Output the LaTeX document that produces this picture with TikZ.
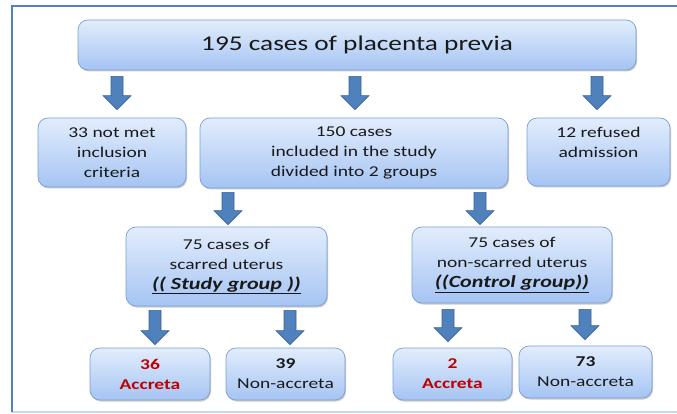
\documentclass[tikz,border=0pt]{standalone}
\usepackage{fontspec}
\setmainfont{Carlito}[FakeStretch=1.3]
\usetikzlibrary{calc,shadows}
\definecolor{boxtop}{HTML}{E2EDFC}
\definecolor{boxbot}{HTML}{A5C4F3}
\definecolor{boxline}{HTML}{7A9FD4}
\definecolor{arrowblue}{HTML}{4F81BD}
\definecolor{arrowdark}{HTML}{3A6396}
\definecolor{framelight}{HTML}{C9D7EA}
\definecolor{accred}{HTML}{C00000}
\tikzset{
  box/.style={draw=boxline, line width=0.7pt, rounded corners=10pt,
    top color=boxtop, bottom color=boxbot, align=center, inner sep=2pt,
    font=\fontsize{15}{20}\selectfont, text=black!90,
    drop shadow={shadow xshift=1pt, shadow yshift=-1.5pt, opacity=0.35, fill=black!60}},
  arrowstyle/.style={draw=arrowdark, fill=arrowblue, line width=0.6pt, line join=miter}
}
% block arrow between two points on one vertical
\newcommand{\blockarrow}[2]{%
  \filldraw[arrowstyle] let \p1=(#1), \p2=(#2) in
    (\x1-6pt,\y1) -- (\x1+6pt,\y1) -- (\x1+6pt,\y2+14pt) -- (\x1+14pt,\y2+14pt)
    -- (\x1,\y2) -- (\x1-14pt,\y2+14pt) -- (\x1-6pt,\y2+14pt) -- cycle;}
\newcommand{\grouptag}[1]{{\fontsize{17}{21}\selectfont\textbf{\textit{\underline{#1}}}}}
\begin{document}
\begin{tikzpicture}[x=1pt, y=-1pt]
\useasboundingbox (0,0) rectangle (677,414);
% frame
\draw[framelight, line width=1.2pt] (12,412) -- (677,412);
\draw[arrowblue, line width=1.8pt] (12,412) -- (12,6) -- (677,6);
% boxes
\node[box, minimum width=558pt, minimum height=50pt, font=\fontsize{21}{25}\selectfont, text depth=3pt] (total) at (357,45) {195 cases of placenta previa};
\node[box, minimum width=148pt, minimum height=69pt] (excl) at (112,152.5) {33 not met\\inclusion\\criteria};
\node[box, minimum width=308pt, minimum height=70pt] (incl) at (354,153) {150 cases\\included in the study\\divided into 2 groups};
\node[box, minimum width=143pt, minimum height=68pt] (refused) at (598.5,152) {12 refused\\admission\\\mbox{}};
\node[box, minimum width=201pt, minimum height=79pt] (study) at (226.5,266.5) {75 cases of\\scarred uterus\\\grouptag{(( Study group ))}};
\node[box, minimum width=200pt, minimum height=76pt] (ctrl) at (512,265) {75 cases of\\non-scarred uterus\\\grouptag{((Control group))}};
\node[box, minimum width=120pt, minimum height=52pt, text=accred] (sacc) at (150,374) {\textbf{36}\\\textbf{Accreta}};
\node[box, minimum width=119pt, minimum height=52pt] (snon) at (285.5,374) {\textbf{39}\\Non-accreta};
\node[box, minimum width=119pt, minimum height=52pt, text=accred] (cacc) at (452.5,374) {\textbf{2}\\\textbf{Accreta}};
\node[box, minimum width=133pt, minimum height=52pt] (cnon) at (585.5,372) {\textbf{73}\\Non-accreta};
% arrow lines
\foreach \n/\x in {ca/117,cb/355,cc/597,cd/228,ce/480,cf/155,cg/290,ch/448,ci/585}
  \coordinate (\n) at (\x,0);
\blockarrow{$(total.south -| ca)+(0,6)$}{$(excl.north -| ca)+(0,-8)$}
\blockarrow{$(total.south -| cb)+(0,6)$}{$(incl.north -| cb)+(0,-8)$}
\blockarrow{$(total.south -| cc)+(0,6)$}{$(refused.north -| cc)+(0,-8)$}
\blockarrow{$(incl.south -| cd)+(0,4)$}{$(study.north -| cd)+(0,-2)$}
\blockarrow{$(incl.south -| ce)+(0,4)$}{$(ctrl.north -| ce)+(0,-2)$}
\blockarrow{$(study.south -| cf)+(0,4)$}{$(sacc.north -| cf)+(0,-3)$}
\blockarrow{$(study.south -| cg)+(0,4)$}{$(snon.north -| cg)+(0,-3)$}
\blockarrow{$(ctrl.south -| ch)+(0,6)$}{$(cacc.north -| ch)+(0,-6)$}
\blockarrow{$(ctrl.south -| ci)+(0,6)$}{$(cnon.north -| ci)+(0,-6)$}
\end{tikzpicture}
\end{document}
